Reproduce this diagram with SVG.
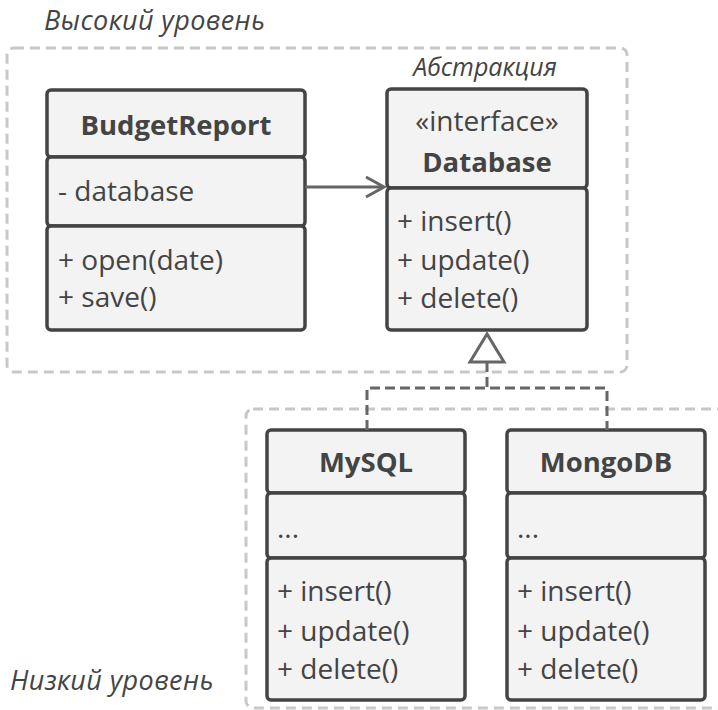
<svg xmlns="http://www.w3.org/2000/svg" width="718" height="710" viewBox="0 0 718 710">
<style>
text{font-family:"Open Sans","Noto Sans","DejaVu Sans",sans-serif;fill:#444}
.t{font-size:27.5px;font-weight:bold;text-anchor:middle}
.m{font-size:28px}
.c{font-size:28px;text-anchor:middle}
.lbl{font-size:27px;font-style:italic;letter-spacing:0.4px}
.box{fill:#f3f3f3;stroke:#444;stroke-width:3.5}
.frame{fill:none;stroke:#c8c8c8;stroke-width:3;stroke-dasharray:10 6}
.con{fill:none;stroke:#666;stroke-width:3}
</style>
<rect class="frame" x="7" y="48" width="620" height="324" rx="7"/>
<rect class="frame" x="246" y="409" width="490" height="299" rx="7"/>
<text class="lbl" x="44" y="30">Высокий уровень</text>
<text class="lbl" x="10" y="690">Низкий уровень</text>
<text class="lbl" x="485" y="76" text-anchor="middle" style="font-size:25px;letter-spacing:0">Абстракция</text>
<g id="BudgetReport">
<rect class="box" x="47" y="90" width="258" height="67" rx="4"/>
<rect class="box" x="47" y="157" width="258" height="69" rx="4"/>
<rect class="box" x="47" y="226" width="258" height="104" rx="4"/>
<text class="t" x="176" y="135">BudgetReport</text>
<text class="m" x="58" y="201">- database</text>
<text class="m" x="58" y="270">+ open(date)</text>
<text class="m" x="58" y="307">+ save()</text>
</g>
<g id="Database">
<rect class="box" x="387" y="89" width="200" height="99" rx="4"/>
<rect class="box" x="387" y="188" width="200" height="142" rx="4"/>
<text class="c" x="487" y="131">«interface»</text>
<text class="t" x="487" y="172">Database</text>
<text class="m" x="397" y="231">+ insert()</text>
<text class="m" x="397" y="270">+ update()</text>
<text class="m" x="397" y="308">+ delete()</text>
</g>
<g id="MySQL">
<rect class="box" x="267" y="430" width="198" height="63" rx="4"/>
<rect class="box" x="267" y="493" width="198" height="65" rx="4"/>
<rect class="box" x="267" y="558" width="198" height="142" rx="4"/>
<text class="t" x="366" y="472">MySQL</text>
<text class="m" x="277" y="538">...</text>
<text class="m" x="277" y="601">+ insert()</text>
<text class="m" x="277" y="641">+ update()</text>
<text class="m" x="277" y="679">+ delete()</text>
</g>
<g id="MongoDB">
<rect class="box" x="507" y="430" width="198" height="63" rx="4"/>
<rect class="box" x="507" y="493" width="198" height="65" rx="4"/>
<rect class="box" x="507" y="558" width="198" height="142" rx="4"/>
<text class="t" x="606" y="472">MongoDB</text>
<text class="m" x="517" y="538">...</text>
<text class="m" x="517" y="601">+ insert()</text>
<text class="m" x="517" y="641">+ update()</text>
<text class="m" x="517" y="679">+ delete()</text>
</g>
<g id="connectors">
<line class="con" x1="305" y1="187" x2="383" y2="187"/>
<polyline class="con" points="366,177 384,187 366,197"/>
<polygon class="con" points="487,334 470,362 504,362"/>
<path class="con" stroke-dasharray="10 5" d="M487 362 V388 M367 430 V388 H607 V430"/>
</g>
</svg>
